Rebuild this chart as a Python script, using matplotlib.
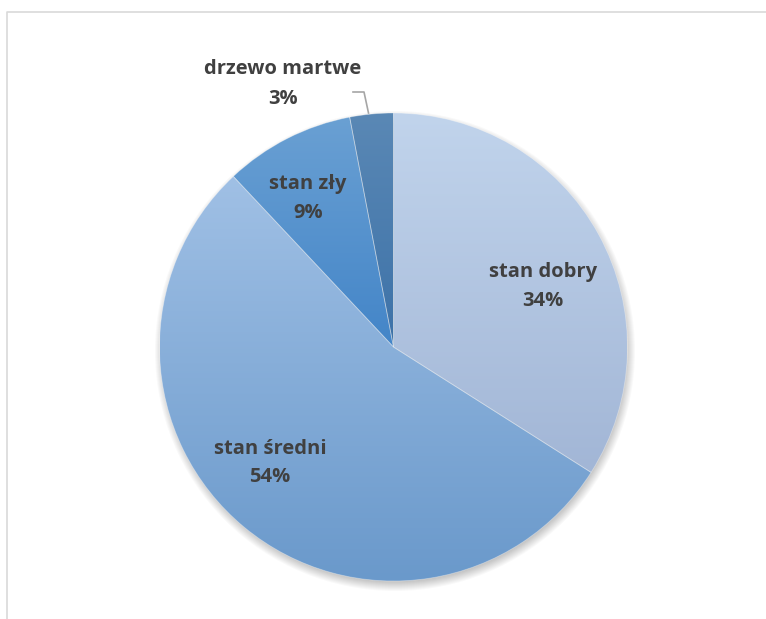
import matplotlib.pyplot as plt
import numpy as np
from matplotlib.colors import LinearSegmentedColormap
from matplotlib.patches import Circle
from matplotlib.lines import Line2D

labels = ["stan dobry", "stan średni", "stan zły", "drzewo martwe"]
values = [34, 54, 9, 3]
top_colors = ["#C1D4EC", "#A0C0E5", "#6AA0D3", "#5A88B5"]
bottom_colors = ["#A2B6D6", "#6A99CB", "#4385C8", "#3D72A8"]
# label anchor points (pixels, image coords)
label_xy = [(543, 286), (270, 463), (308, 198), (283, 84)]

W, H = 766, 619
cx, cy, R = 393.5, H - 347, 234

fig = plt.figure(figsize=(W / 100, H / 100), dpi=100)
ax = fig.add_axes([0, 0, 1, 1])

# soft shadow under the pie
for i in range(14):
    ax.add_patch(Circle((cx + 1.5, cy - 4), R + 6 - i, color="#000000", alpha=0.025, lw=0, zorder=1))

wedges, _ = ax.pie(values, startangle=90, counterclock=False, center=(cx, cy), radius=R,
                   wedgeprops=dict(facecolor="none", edgecolor=(1, 1, 1, 0.35), linewidth=0.6),
                   frame=True)

grad = np.linspace(0, 1, 256).reshape(-1, 1)
for w, c0, c1 in zip(wedges, top_colors, bottom_colors):
    w.set_zorder(3)
    bb = w.get_path().get_extents(w.get_patch_transform())
    cmap = LinearSegmentedColormap.from_list("g", [c0, c1])
    im = ax.imshow(grad, cmap=cmap, aspect="auto", origin="upper",
                   extent=(bb.x0, bb.x1, bb.y0, bb.y1), zorder=2, interpolation="bilinear")
    im.set_clip_path(w)

font = dict(family=["Open Sans", "DejaVu Sans"], fontsize=14.5, fontweight="bold", color="#404040")
for (lx, ly), name, v in zip(label_xy, labels, values):
    ax.text(lx, H - ly, f"{name}\n{v}%", ha="center", va="center", linespacing=1.6, zorder=5, **font)

# leader line for the small slice
ax.add_line(Line2D([353, 364, 368.5], [H - 92, H - 92, H - 113], color="#A6A6A6", lw=1.2, zorder=5))

# chart area border
ax.add_line(Line2D([6.5, 6.5, W], [0, H - 11.5, H - 11.5], color="#D9D9D9", lw=1.2, zorder=6))

ax.set_xlim(0, W)
ax.set_ylim(0, H)
ax.axis("off")
fig.savefig("out.png", dpi=100)
